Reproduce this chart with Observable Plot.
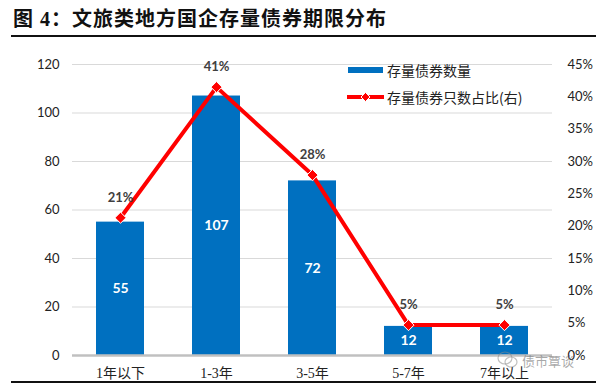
<!DOCTYPE html>
<html>
<head>
<meta charset="utf-8">
<script src="https://cdn.jsdelivr.net/npm/d3@7"></script>
<script src="https://cdn.jsdelivr.net/npm/@observablehq/plot@0.6"></script>
<style>
  html, body { margin: 0; padding: 0; background: #fff; }
  #wrap { position: relative; width: 596px; height: 387px; overflow: hidden; }
  #title { position: absolute; left: 13px; top: 3px; font-family: "Liberation Serif", "Noto Sans CJK SC", serif; font-weight: bold; font-size: 20px; color: #111; white-space: nowrap; letter-spacing: 1px; }
  .rule { position: absolute; left: 11px; width: 585px; height: 1.5px; background: #111; }
  #chart { position: absolute; left: 0; top: 38px; }
  #legend { position: absolute; left: 346px; top: 58px; font-family: "Noto Sans CJK SC", sans-serif; font-size: 14px; color: #222; }
  .item { position: absolute; left: 0; white-space: nowrap; display: flex; align-items: center; }
  .item svg { margin-right: 3px; }
  #wmicon { position: absolute; left: 496px; top: 350px; }
  #wm { position: absolute; left: 522px; top: 351px; font-family: "Noto Sans CJK SC", sans-serif; font-size: 13px; color: rgba(110,110,110,0.6); white-space: nowrap; }
</style>
</head>
<body>
<div id="wrap">
  <div id="title">图 4：文旅类地方国企存量债券期限分布</div>
  <div class="rule" style="top:35px"></div>
  <div id="chart"></div>
  <div id="legend">
    <div class="item" style="top:2px"><svg width="38" height="8"><rect x="2" y="1" width="35" height="6" fill="#0070C0"/></svg><span>存量债券数量</span></div>
    <div class="item" style="top:29px"><svg width="38" height="10"><line x1="1" x2="38" y1="5" y2="5" stroke="#ff0000" stroke-width="4"/><path d="M19.5,0.5 L24,5 L19.5,9.5 L15,5 Z" fill="#ff0000" stroke="#fff" stroke-width="1"/></svg><span>存量债券只数占比(右)</span></div>
  </div>
  <svg id="wmicon" width="24" height="20"><ellipse cx="9" cy="8" rx="7" ry="6" fill="none" stroke="rgba(140,140,140,0.55)" stroke-width="1.2"/><ellipse cx="15" cy="12" rx="6" ry="5" fill="none" stroke="rgba(140,140,140,0.55)" stroke-width="1.2"/></svg>
  <div id="wm">债市覃谈</div>
  <div class="rule" style="top:381px"></div>
</div>
<script>
const categories = ["1年以下", "1-3年", "3-5年", "5-7年", "7年以上"];
const counts = [55, 107, 72, 12, 12];
const shares = [0.213, 0.415, 0.279, 0.047, 0.047];
const shareLabels = ["21%", "41%", "28%", "5%", "5%"];
const leftTicks = [0, 20, 40, 60, 80, 100, 120];
const rightTicks = [0, 0.05, 0.10, 0.15, 0.20, 0.25, 0.30, 0.35, 0.40, 0.45];

const yMax = 120, rMax = 0.45;
const toY = s => s * yMax / rMax;
const data = categories.map((c, i) => ({cat: c, count: counts[i], share: shares[i], label: shareLabels[i]}));

const sans = "Lato, 'Noto Sans', 'Noto Sans CJK SC', sans-serif";
const serif = "'Liberation Serif', 'Noto Sans CJK SC', serif";

const chart = Plot.plot({
  width: 596,
  height: 342,
  marginLeft: 72,
  marginRight: 44,
  marginTop: 26,
  marginBottom: 25,
  style: {fontFamily: sans, fontSize: "13px", color: "#222", background: "transparent"},
  x: {type: "band", domain: categories, paddingInner: 0.5, paddingOuter: 0.25},
  y: {domain: [0, yMax]},
  marks: [
    Plot.ruleY(leftTicks.filter(d => d > 0), {stroke: "#d9d9d9", strokeWidth: 1}),
    Plot.barY(data, {x: "cat", y: "count", fill: "#0070C0"}),
    Plot.ruleY([0], {stroke: "#c0c0c0", strokeWidth: 2.5}),
    Plot.text(data, {x: "cat", y: d => d.count / 2, text: d => String(d.count), fill: "white", fontWeight: "bold", fontSize: 14}),
    Plot.line(data, {x: "cat", y: d => toY(d.share), stroke: "#ff0000", strokeWidth: 4, curve: "linear"}),
    Plot.dot(data, {x: "cat", y: d => toY(d.share), symbol: "diamond2", r: 5, fill: "#ff0000", stroke: "white", strokeWidth: 1}),
    Plot.text(data, {x: "cat", y: d => toY(d.share), dy: -20, text: "label", fill: "#404040", fontWeight: "bold", fontSize: 13}),
    Plot.axisY(leftTicks, {anchor: "left", tickSize: 0, tickPadding: 13, fontSize: 13, label: null}),
    Plot.axisY(rightTicks.map(toY), {anchor: "right", tickSize: 0, tickPadding: 15, fontSize: 13, label: null, textAnchor: "start",
      tickFormat: d => Math.round(d * rMax / yMax * 100) + "%"}),
    Plot.axisX({tickSize: 0, tickPadding: 13, fontSize: 14, fontFamily: serif, label: null})
  ]
});
document.getElementById("chart").appendChild(chart);
</script>
</body>
</html>
